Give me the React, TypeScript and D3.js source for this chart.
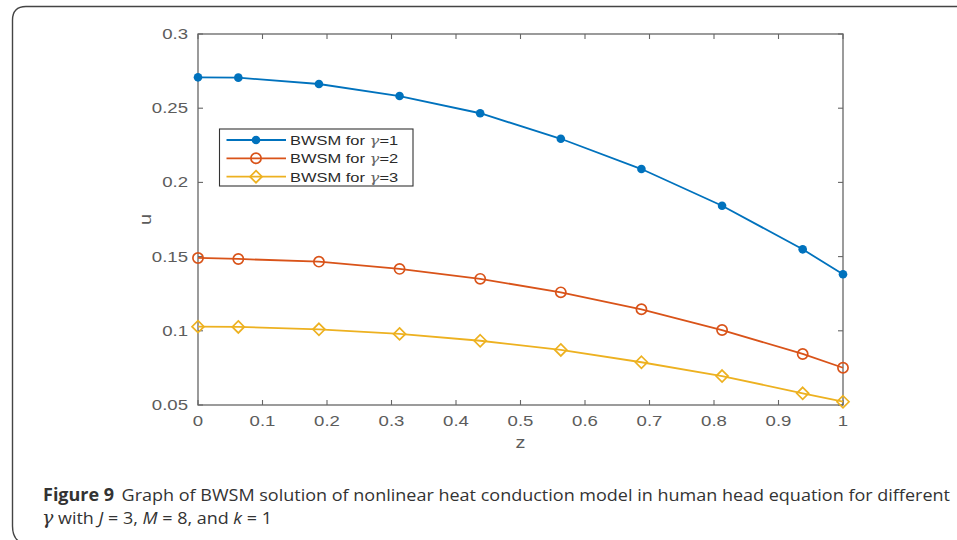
import React from "react";
import * as d3 from "d3";

// Collocation points z_i = (2i-1)/(2M), plus endpoints
const zValues = [0, 0.0625, 0.1875, 0.3125, 0.4375, 0.5625, 0.6875, 0.8125, 0.9375, 1];
const uGamma1 = [0.2708, 0.2706, 0.2663, 0.2582, 0.2466, 0.2294, 0.209, 0.1843, 0.1549, 0.1381];
const uGamma2 = [0.1491, 0.1484, 0.1466, 0.1417, 0.135, 0.1259, 0.1145, 0.1005, 0.0844, 0.0751];
const uGamma3 = [0.1028, 0.1026, 0.101, 0.0979, 0.0933, 0.0871, 0.0788, 0.0695, 0.0579, 0.0522];
const gammaLabels = ["1", "2", "3"];
const xTicks = [0, 0.1, 0.2, 0.3, 0.4, 0.5, 0.6, 0.7, 0.8, 0.9, 1];
const yTicks = [0.05, 0.1, 0.15, 0.2, 0.25, 0.3];

const W = 957;
const H = 540;
const plot = { left: 198, right: 843, top: 34, bottom: 405 };

const x = d3.scaleLinear().domain([0, 1]).range([plot.left, plot.right]);
const y = d3.scaleLinear().domain([0.05, 0.3]).range([plot.bottom, plot.top]);

const series = [
  { values: uGamma1, color: "#0072BD", marker: "dot" },
  { values: uGamma2, color: "#D95319", marker: "circle" },
  { values: uGamma3, color: "#EDB120", marker: "diamond" },
];

const axisColor = "#666";
const tickText = "#5c5c5c";
const sans = "'Liberation Sans', Arial, sans-serif";
const captionFont = "'Open Sans', 'Noto Sans', sans-serif";
// axis text is rendered slightly wide
const stretch = 1.24;

function Marker({ kind, cx, cy, color }: { kind: string; cx: number; cy: number; color: string }) {
  if (kind === "dot") return <circle cx={cx} cy={cy} r={4.3} fill={color} />;
  if (kind === "circle")
    return <circle cx={cx} cy={cy} r={5.1} fill="none" stroke={color} strokeWidth={1.7} />;
  const s = 6;
  return (
    <path
      d={`M${cx},${cy - s}L${cx + s},${cy}L${cx},${cy + s}L${cx - s},${cy}Z`}
      fill="none"
      stroke={color}
      strokeWidth={1.7}
    />
  );
}

function WideText({
  x: tx,
  y: ty,
  anchor,
  size,
  color,
  sx = stretch,
  children,
}: {
  x: number;
  y: number;
  anchor: "start" | "middle" | "end";
  size: number;
  color: string;
  sx?: number;
  children: React.ReactNode;
}) {
  return (
    <g transform={`translate(${tx},${ty}) scale(${sx},1)`}>
      <text x={0} y={0} textAnchor={anchor} fontFamily={sans} fontSize={size} fill={color}>
        {children}
      </text>
    </g>
  );
}

export default function App() {
  const line = d3
    .line<number>()
    .x((_, i) => x(zValues[i]))
    .y((d) => y(d));

  const legend = { left: 219.5, top: 129, right: 413, bottom: 186 };
  const rowY = [140, 158.3, 176.7];

  return (
    <svg
      width={W}
      height={H}
      style={{ position: "absolute", left: 0, top: 0, background: "#fff" }}
      viewBox={`0 0 ${W} ${H}`}
    >
      {/* figure frame */}
      <path
        d={`M${W + 5},6.5 L26,6.5 Q12.5,6.5 12.5,20 L12.5,${H - 14} Q12.5,${H - 2} 20,${H + 2}`}
        fill="none"
        stroke="#444"
        strokeWidth={1.4}
      />

      {/* axes box */}
      <rect
        x={plot.left}
        y={plot.top}
        width={plot.right - plot.left}
        height={plot.bottom - plot.top}
        fill="none"
        stroke={axisColor}
        strokeWidth={1.3}
      />

      {/* x ticks (bottom and top, inward) */}
      {xTicks.map((t) => (
        <g key={`xt${t}`}>
          <line x1={x(t)} x2={x(t)} y1={plot.bottom} y2={plot.bottom - 5} stroke={axisColor} strokeWidth={1.1} />
          <line x1={x(t)} x2={x(t)} y1={plot.top} y2={plot.top + 5} stroke={axisColor} strokeWidth={1.1} />
          <WideText x={x(t)} y={plot.bottom + 21} anchor="middle" size={15} color={tickText}>
            {t === 0 || t === 1 ? String(t) : t.toFixed(1)}
          </WideText>
        </g>
      ))}

      {/* y ticks (left and right, inward) */}
      {yTicks.map((t) => (
        <g key={`yt${t}`}>
          <line x1={plot.left} x2={plot.left + 5} y1={y(t)} y2={y(t)} stroke={axisColor} strokeWidth={1.1} />
          <line x1={plot.right} x2={plot.right - 5} y1={y(t)} y2={y(t)} stroke={axisColor} strokeWidth={1.1} />
          <WideText x={plot.left - 10} y={y(t) + 5} anchor="end" size={15} color={tickText}>
            {String(Number(t.toFixed(2)))}
          </WideText>
        </g>
      ))}

      {/* axis labels */}
      <WideText x={(plot.left + plot.right) / 2} y={448} anchor="middle" size={16} color={tickText}>
        z
      </WideText>
      <text
        transform={`translate(151,${(plot.top + plot.bottom) / 2}) rotate(-90) scale(${stretch},1)`}
        textAnchor="middle"
        fontFamily={sans}
        fontSize={16}
        fill={tickText}
      >
        u
      </text>

      {/* series */}
      {series.map((s, si) => (
        <g key={`s${si}`}>
          <path d={line(s.values) ?? ""} fill="none" stroke={s.color} strokeWidth={1.8} />
          {s.values.map((v, i) => (
            <Marker key={i} kind={s.marker} cx={x(zValues[i])} cy={y(v)} color={s.color} />
          ))}
        </g>
      ))}

      {/* legend */}
      <rect
        x={legend.left}
        y={legend.top}
        width={legend.right - legend.left}
        height={legend.bottom - legend.top}
        fill="#fff"
        stroke="#333"
        strokeWidth={1.1}
      />
      {series.map((s, i) => (
        <g key={`lg${i}`}>
          <line x1={226.5} x2={286} y1={rowY[i]} y2={rowY[i]} stroke={s.color} strokeWidth={1.8} />
          <Marker kind={s.marker} cx={256} cy={rowY[i]} color={s.color} />
          <g transform={`translate(290,${rowY[i] + 5}) scale(1.22,1)`}>
            <text x={0} y={0} fontFamily={sans} fontSize={13.5} fill="#2a2a2a">
              BWSM for{" "}
              <tspan fontFamily="'DejaVu Serif', serif" fontStyle="italic" fill="#666">
                γ
              </tspan>
              ={gammaLabels[i]}
            </text>
          </g>
        </g>
      ))}

      {/* caption */}
      <text
        x={43}
        y={501}
        fontFamily={captionFont}
        fontSize={17}
        fill="#333"
        textLength={907}
        lengthAdjust="spacingAndGlyphs"
      >
        <tspan fontWeight="bold">Figure 9</tspan>
        <tspan dx={7}>
          Graph of BWSM solution of nonlinear heat conduction model in human head equation for different
        </tspan>
      </text>
      <text
        x={42}
        y={524}
        fontFamily={captionFont}
        fontSize={17}
        fill="#333"
        textLength={230}
        lengthAdjust="spacingAndGlyphs"
      >
        <tspan fontFamily="'DejaVu Serif', serif" fontStyle="italic" fontSize={18}>
          γ
        </tspan>
        <tspan> with </tspan>
        <tspan fontStyle="italic">J</tspan>
        <tspan> = 3, </tspan>
        <tspan fontStyle="italic">M</tspan>
        <tspan> = 8, and </tspan>
        <tspan fontStyle="italic">k</tspan>
        <tspan> = 1</tspan>
      </text>
    </svg>
  );
}
